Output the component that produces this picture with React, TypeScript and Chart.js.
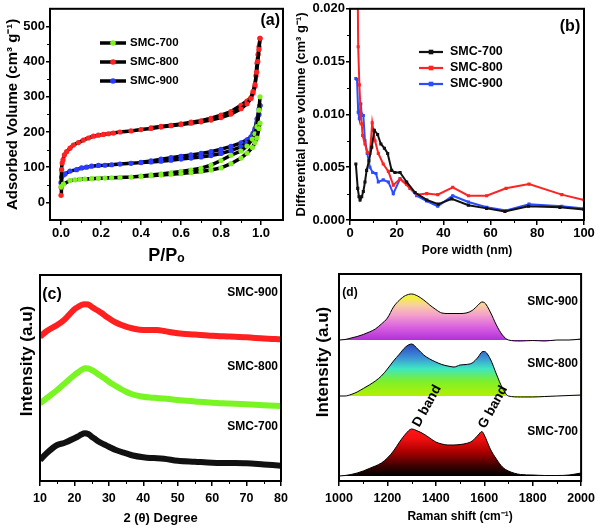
import React, { useEffect, useRef } from 'react';
import { Chart, registerables } from 'chart.js';

Chart.register(...registerables);

const FONT = "'Liberation Sans', Arial, Helvetica, sans-serif";

// ---------------- (a) N2 adsorption–desorption isotherms ----------------
const isoLabels = ['SMC-700', 'SMC-800', 'SMC-900'];
const isoColors = ['#7ff023', '#ff2222', '#2a3cff'];

const p700Ads = [0, 0.012, 0.045, 0.07, 0.095, 0.12, 0.153, 0.187, 0.22, 0.253, 0.295, 0.35, 0.4, 0.45, 0.5, 0.55, 0.6, 0.65, 0.7, 0.75, 0.8, 0.85, 0.9, 0.93, 0.957, 0.97, 0.98, 0.99, 0.995];
const v700Ads = [45, 52, 62, 64, 65.5, 66.5, 67.5, 68.5, 69, 70, 71, 72, 74, 76, 78, 80, 82, 85, 88, 92, 98, 110, 126, 140, 156, 170, 183, 210, 225];
const p700Des = [0.995, 0.99, 0.98, 0.97, 0.957, 0.93, 0.9, 0.85, 0.8, 0.75, 0.7, 0.65, 0.6, 0.55, 0.5, 0.45, 0.4];
const v700Des = [300, 262, 215, 195, 180, 160, 146, 134, 119, 106, 97, 92, 88, 84, 81, 78, 75];

const p800Ads = [0, 0.001, 0.003, 0.006, 0.01, 0.017, 0.028, 0.045, 0.062, 0.087, 0.112, 0.137, 0.162, 0.187, 0.212, 0.237, 0.262, 0.295, 0.35, 0.4, 0.45, 0.5, 0.55, 0.6, 0.65, 0.7, 0.75, 0.8, 0.85, 0.9, 0.93, 0.95, 0.96, 0.97, 0.978, 0.984, 0.99, 0.995];
const v800Ads = [20, 42, 93, 112, 121, 135, 144, 154, 163, 170, 177, 183, 188, 191, 193, 195, 197, 200, 203, 207, 210, 214, 218, 221, 225, 229, 234, 241, 251, 266, 280, 295, 315, 335, 370, 400, 435, 466];
const p800Des = [0.995, 0.99, 0.985, 0.98, 0.975, 0.97, 0.96, 0.95, 0.93, 0.9, 0.85, 0.8, 0.75, 0.7, 0.65, 0.6, 0.55, 0.5, 0.45];
const v800Des = [466, 442, 420, 396, 360, 330, 310, 298, 288, 276, 258, 248, 239, 232, 228, 223, 219, 216, 212];

const p900Ads = [0, 0.003, 0.012, 0.02, 0.045, 0.078, 0.103, 0.128, 0.153, 0.187, 0.22, 0.253, 0.295, 0.35, 0.4, 0.45, 0.5, 0.55, 0.6, 0.65, 0.7, 0.75, 0.8, 0.85, 0.9, 0.93, 0.95, 0.96, 0.97, 0.98, 0.99, 0.995];
const v900Ads = [56, 72, 78, 81, 89, 93, 98, 100, 103, 105, 105.5, 107, 109, 111, 113, 115, 117, 120, 123, 126, 129, 133, 139, 147, 158, 168, 180, 190, 205, 225, 250, 275];
const p900Des = [0.995, 0.99, 0.98, 0.97, 0.96, 0.95, 0.93, 0.9, 0.85, 0.8, 0.75, 0.7, 0.65, 0.6, 0.55, 0.5, 0.45, 0.4];
const v900Des = [275, 265, 237, 210, 196, 186, 178, 169, 159, 151, 144, 139, 135, 131, 127, 123, 118, 114];

const aXTicks = [0, 0.2, 0.4, 0.6, 0.8, 1.0];
const aXMinor = [0.1, 0.3, 0.5, 0.7, 0.9];
const aYTicks = [0, 100, 200, 300, 400, 500];
const aYMinor = [50, 150, 250, 350, 450];

// ---------------- (b) pore size distribution ----------------
const psdLabels = ['SMC-700', 'SMC-800', 'SMC-900'];
const psdColors = ['#111111', '#ff2424', '#2a4dff'];
const psdX700 = [2.5, 3.3, 3.85, 4.3, 5.0, 5.7, 6.4, 7.1, 8.1, 9.3, 10.4, 11.8, 13.2, 14.7, 16.1, 17.8, 19.2, 21.4, 24.2, 27.8, 32.8, 37.7, 43.5, 50.6, 58.4, 66.2, 76.2, 89.7, 100];
const psdY700 = [0.0053, 0.0030, 0.0022, 0.0019, 0.0022, 0.0027, 0.0036, 0.0047, 0.0056, 0.0069, 0.0085, 0.0081, 0.0072, 0.0068, 0.0063, 0.0047, 0.0045, 0.0045, 0.0036, 0.0026, 0.0019, 0.0015, 0.0020, 0.0014, 0.0011, 0.0008, 0.0013, 0.0012, 0.0010];
const psdX800 = [3.3, 3.5, 4.0, 4.6, 5.0, 5.4, 6.4, 7.4, 8.5, 9.5, 10.7, 12.1, 14.2, 16.4, 18.5, 21.4, 25.6, 28.5, 32.8, 37.5, 43.9, 50.6, 58.4, 66.7, 76.5, 90.5, 100];
const psdY800 = [0.0215, 0.0164, 0.0128, 0.0100, 0.0091, 0.0080, 0.0072, 0.0064, 0.0063, 0.0092, 0.0075, 0.0063, 0.0053, 0.0046, 0.0033, 0.0039, 0.0030, 0.0024, 0.0025, 0.0024, 0.0031, 0.0023, 0.0023, 0.0030, 0.0034, 0.0024, 0.0019];
const psdX900 = [2.5, 3.0, 3.5, 4.0, 4.6, 5.0, 5.7, 6.4, 7.4, 8.5, 9.7, 11.1, 12.1, 14.2, 16.4, 18.5, 21.4, 24.2, 28.5, 32.8, 37.5, 43.9, 50.6, 58.4, 66.7, 76.5, 90.5, 100];
const psdY900 = [0.0134, 0.0133, 0.0102, 0.0096, 0.0110, 0.0100, 0.0099, 0.0075, 0.0063, 0.0050, 0.0045, 0.0044, 0.0036, 0.0038, 0.0036, 0.0025, 0.0039, 0.0034, 0.0023, 0.0018, 0.0013, 0.0023, 0.0017, 0.0012, 0.0009, 0.0015, 0.0013, 0.0011];
const bXTicks = [0, 20, 40, 60, 80, 100];
const bXMinor = [10, 30, 50, 70, 90];
const bYTicks = [0, 0.005, 0.01, 0.015, 0.02];
const bYMinor = [0.0025, 0.0075, 0.0125, 0.0175];

// ---------------- (c) XRD ----------------
const xrdLabels = ['SMC-700', 'SMC-800', 'SMC-900'];
const xrdColors = ['#111111', '#79f524', '#ff2020'];
const xrdX = [10, 12, 15, 17, 20, 21, 22, 23, 24, 25, 26, 27, 28, 29, 30, 32, 35, 37, 40, 42, 44, 46, 50, 55, 60, 65, 70, 75, 80];
const xrd700 = [21, 28, 36, 38, 42.7, 44.5, 46.5, 47.7, 47, 44.3, 42, 39.5, 37.7, 36, 34.3, 31, 27.7, 25.5, 23.7, 23, 22.8, 22.3, 20.3, 19.3, 18.3, 18, 17.7, 16.5, 15.3];
const xrd800 = [77.7, 83, 91, 97, 106, 108.5, 111, 112.7, 112.5, 111, 109, 106.5, 104.3, 102, 99.3, 95, 89.3, 86.5, 84.3, 83.5, 83, 82.5, 81, 79.6, 78.3, 77.5, 76.7, 75.8, 75];
const xrd900 = [144.3, 150, 156, 161, 171.7, 174, 176, 176.7, 176.5, 174.3, 172, 170, 167.7, 165, 162.7, 158.5, 154.3, 152.5, 151, 151, 151, 150, 147.7, 146.5, 145.3, 144.5, 143.7, 142.5, 141.7];
const cXTicks = [10, 20, 30, 40, 50, 60, 70, 80];
const cXMinor = [15, 25, 35, 45, 55, 65, 75];

// ---------------- (d) Raman ----------------
const ramanLabels = ['SMC-700', 'SMC-800', 'SMC-900'];
const ramanOffsets = [5, 85, 141];
const ramanX = [1000, 1025, 1050, 1075, 1100, 1125, 1150, 1175, 1200, 1225, 1250, 1275, 1300, 1325, 1350, 1375, 1400, 1425, 1450, 1475, 1500, 1525, 1550, 1575, 1590, 1600, 1625, 1650, 1675, 1700, 1750, 1800, 1850, 1900, 1950, 2000];
const raman700 = [0, 0.5, 1.5, 3, 5, 7.5, 10, 13, 18, 25, 34, 42, 47, 45, 42, 38, 34, 32, 31, 31, 31.5, 32.5, 35, 41, 44.5, 41, 27, 17, 9, 5, 1.5, 1, 0.5, 0.5, 1, 3];
const raman800 = [0, 0, 1.5, 4, 7.5, 11, 15, 20, 27, 35, 42, 49, 52, 47, 41, 37, 34, 31.5, 30, 29, 31, 31.5, 33, 39, 44, 44.5, 37, 22, 8, 0, -1, -1, -0.5, 0, 0.5, 1];
const raman900 = [0, 0.5, 2, 3.5, 5.5, 8, 11, 16, 22, 33, 40, 44.5, 46, 44, 40, 35, 30.5, 27, 26.5, 26.5, 26.5, 27, 29.5, 35, 38, 37.5, 28, 15, 5, 0, -1, -0.5, -1, 0, 0, 1];
const dXTicks = [1000, 1200, 1400, 1600, 1800, 2000];
const dXMinor = [1100, 1300, 1500, 1700, 1900];

const ramanGradients = [
  [[0, '#000000'], [0.2, '#3c0000'], [0.5, '#b00000'], [0.75, '#f01010'], [1, '#ff1a1a']],
  [[0, '#b4f000'], [0.3, '#7cf02c'], [0.55, '#3ee6c4'], [0.78, '#3c8ed6'], [1, '#3050c8']],
  [[0, '#b030d8'], [0.25, '#d860e0'], [0.5, '#f4a0cc'], [0.7, '#f8d0a0'], [0.85, '#f2f040'], [1, '#f0f040']],
];

// ---------------- helpers ----------------
const pts = (xs: number[], ys: number[]) => xs.map((x, i) => ({ x, y: ys[i] }));
const bold = (size: number) => ({ family: FONT, size, weight: 'bold' as const });

const deco = {
  id: 'deco',
  afterDraw(chart: any, _args: any, o: any) {
    const { ctx, chartArea: a, scales } = chart;
    ctx.save();
    ctx.strokeStyle = '#000';
    ctx.lineWidth = 1;
    ctx.beginPath();
    (o.minorX || []).forEach((v: number) => {
      const px = Math.round(scales.x.getPixelForValue(v)) + 0.5;
      ctx.moveTo(px, a.bottom);
      ctx.lineTo(px, a.bottom + 3);
    });
    (o.minorY || []).forEach((v: number) => {
      const py = Math.round(scales.y.getPixelForValue(v)) + 0.5;
      ctx.moveTo(a.left, py);
      ctx.lineTo(a.left - 3, py);
    });
    ctx.stroke();
    ctx.lineWidth = 2;
    ctx.strokeRect(a.left, a.top, a.right - a.left, a.bottom - a.top);

    const L = o.legend;
    if (L) {
      L.items.forEach((it: any) => {
        ctx.strokeStyle = L.lineColor || it.color;
        ctx.lineWidth = L.lineW;
        ctx.beginPath();
        ctx.moveTo(L.x0, it.y);
        ctx.lineTo(L.x1, it.y);
        ctx.stroke();
        ctx.fillStyle = it.color;
        const cx = (L.x0 + L.x1) / 2;
        if (L.marker === 'circle') {
          ctx.beginPath();
          ctx.arc(cx, it.y, L.r, 0, Math.PI * 2);
          ctx.fill();
        } else {
          ctx.fillRect(cx - L.r, it.y - L.r, 2 * L.r, 2 * L.r);
        }
        ctx.fillStyle = '#000';
        ctx.font = `bold ${L.size}px ${FONT}`;
        ctx.textAlign = 'left';
        ctx.textBaseline = 'middle';
        ctx.fillText(it.label, L.tx, it.y);
      });
    }
    (o.texts || []).forEach((t: any) => {
      ctx.save();
      ctx.translate(t.x, t.y);
      ctx.rotate(((t.rot || 0) * Math.PI) / 180);
      ctx.font = `bold ${t.size}px ${FONT}`;
      ctx.textAlign = t.align || 'center';
      ctx.textBaseline = 'middle';
      ctx.fillStyle = '#000';
      ctx.fillText(t.t, 0, 0);
      ctx.restore();
    });
    ctx.restore();
  },
};

function xScale(o: any) {
  return {
    type: 'linear',
    min: o.min,
    max: o.max,
    afterBuildTicks: (s: any) => {
      s.ticks = o.ticks.map((v: number) => ({ value: v }));
    },
    afterFit: (s: any) => {
      s.height = o.h;
    },
    grid: { display: true, drawOnChartArea: false, drawTicks: true, tickLength: o.tl ?? 5, color: '#000', lineWidth: 1.5 },
    border: { display: true, color: '#000', width: 2 },
    ticks: { color: '#000', font: bold(o.tickSize), padding: o.tickPad ?? 1, maxRotation: 0, callback: o.fmt },
    title: { display: true, text: o.title, color: '#000', font: bold(o.titleSize), padding: { top: 0, bottom: o.titlePad } },
  };
}

function yScale(o: any) {
  return {
    type: 'linear',
    min: o.min,
    max: o.max,
    afterBuildTicks: (s: any) => {
      s.ticks = (o.ticks || []).map((v: number) => ({ value: v }));
    },
    afterFit: (s: any) => {
      s.width = o.w;
    },
    grid: { display: !!o.ticks, drawOnChartArea: false, drawTicks: true, tickLength: o.tl ?? 5, color: '#000', lineWidth: 1.5 },
    border: { display: true, color: '#000', width: 2 },
    ticks: { display: !!o.ticks, color: '#000', font: bold(o.tickSize || 12), padding: o.tickPad ?? 1, callback: o.fmt },
    title: { display: !!o.title, text: o.title || '', color: '#000', font: bold(o.titleSize || 12), padding: { top: o.titlePad || 0, bottom: 0 } },
  };
}

const commonOpts = (padTop: number, padRight: number) => ({
  responsive: false,
  animation: false,
  maintainAspectRatio: false,
  events: [],
  layout: { padding: { top: padTop, right: padRight, left: 0, bottom: 0 } },
});

// ---------------- chart configs ----------------
function configA() {
  const sets: any[] = [];
  const groups = [
    [p700Ads, v700Ads, p700Des, v700Des],
    [p800Ads, v800Ads, p800Des, v800Des],
    [p900Ads, v900Ads, p900Des, v900Des],
  ];
  groups.forEach((g, i) => {
    [[g[0], g[1]], [g[2], g[3]]].forEach(([xs, ys]) => {
      sets.push({
        label: isoLabels[i],
        data: pts(xs as number[], ys as number[]),
        borderColor: '#000',
        borderWidth: 3.5,
        pointRadius: 2.6,
        pointBackgroundColor: isoColors[i],
        pointBorderWidth: 0,
        tension: 0,
      });
    });
  });
  return {
    type: 'line',
    data: { datasets: sets },
    options: {
      ...commonOpts(4, 17),
      scales: {
        x: xScale({ min: -0.055, max: 1.11, ticks: aXTicks, h: 48, tickSize: 13, tickPad: 1, fmt: (v: any) => Number(v).toFixed(1), title: 'P/Pₒ', titleSize: 18, titlePad: 1 }),
        y: yScale({ min: -50, max: 550, ticks: aYTicks, w: 50, tickSize: 13, tickPad: 1, tl: 4, fmt: (v: any) => String(v), title: 'Adsorbed Volume (cm³ g⁻¹)', titleSize: 15, titlePad: 4 }),
      },
      plugins: {
        legend: { display: false },
        tooltip: { enabled: false },
        deco: {
          minorX: aXMinor,
          minorY: aYMinor,
          texts: [{ t: '(a)', x: 280, y: 21, size: 16, align: 'right' }],
          legend: {
            x0: 100, x1: 126, tx: 130, r: 2.8, lineW: 3.5, lineColor: '#000', size: 11.5, marker: 'circle',
            items: isoLabels.map((l, i) => ({ label: l, color: isoColors[i], y: [43, 62, 81][i] })),
          },
        },
      },
    },
    plugins: [deco],
  };
}

function configB() {
  const xs = [psdX700, psdX800, psdX900];
  const ys = [psdY700, psdY800, psdY900];
  return {
    type: 'line',
    data: {
      datasets: psdLabels.map((l, i) => ({
        label: l,
        data: pts(xs[i], ys[i]),
        borderColor: psdColors[i],
        backgroundColor: psdColors[i],
        borderWidth: 2,
        pointStyle: 'rect',
        pointRadius: 2.2,
        pointBorderWidth: 0,
        pointBackgroundColor: psdColors[i],
        tension: 0,
      })),
    },
    options: {
      ...commonOpts(7, 16),
      scales: {
        x: xScale({ min: 0, max: 100, ticks: bXTicks, h: 48, tickSize: 13, tickPad: 1, fmt: (v: any) => String(v), title: 'Pore width (nm)', titleSize: 12, titlePad: 10 }),
        y: yScale({ min: 0, max: 0.02, ticks: bYTicks, w: 60, tickSize: 13, tickPad: 1, tl: 4, fmt: (v: any) => Number(v).toFixed(3), title: 'Differential pore volume (cm³ g⁻¹)', titleSize: 13, titlePad: 4 }),
      },
      plugins: {
        legend: { display: false },
        tooltip: { enabled: false },
        deco: {
          minorX: bXMinor,
          minorY: bYMinor,
          texts: [{ t: '(b)', x: 280, y: 27, size: 16, align: 'center' }],
          legend: {
            x0: 129, x1: 153, tx: 160, r: 2.3, lineW: 2.2, size: 12.5, marker: 'rect',
            items: psdLabels.map((l, i) => ({ label: l, color: psdColors[i], y: [52, 68, 84][i] })),
          },
        },
      },
    },
    plugins: [deco],
  };
}

function configC() {
  const ys = [xrd700, xrd800, xrd900];
  return {
    type: 'line',
    data: {
      datasets: xrdLabels.map((l, i) => ({
        label: l,
        data: pts(xrdX, ys[i]),
        borderColor: xrdColors[i],
        borderWidth: 6,
        pointRadius: 0,
        cubicInterpolationMode: 'monotone',
      })),
    },
    options: {
      ...commonOpts(7, 19),
      scales: {
        x: xScale({ min: 10, max: 80, ticks: cXTicks, h: 48, tickSize: 12.5, tickPad: 5, fmt: (v: any) => String(v), title: '2 (θ) Degree', titleSize: 13, titlePad: 3 }),
        y: yScale({ min: 0, max: 206, w: 40 }),
      },
      plugins: {
        legend: { display: false },
        tooltip: { enabled: false },
        deco: {
          minorX: cXMinor,
          texts: [
            { t: 'Intensity (a.u)', x: 27, y: 93, size: 17, align: 'center', rot: -90 },
            { t: '(c)', x: 52, y: 27, size: 16, align: 'center' },
            { t: 'SMC-900', x: 278, y: 25, size: 12, align: 'right' },
            { t: 'SMC-800', x: 278, y: 99, size: 12, align: 'right' },
            { t: 'SMC-700', x: 278, y: 159, size: 12, align: 'right' },
          ],
        },
      },
    },
    plugins: [deco],
  };
}

function configD() {
  const ys = [raman700, raman800, raman900];
  const peakTop = 50;
  return {
    type: 'line',
    data: {
      datasets: ramanLabels.map((l, i) => ({
        label: l,
        data: pts(ramanX, ys[i].map((v) => v + ramanOffsets[i])),
        borderColor: '#000',
        borderWidth: 1,
        pointRadius: 0,
        cubicInterpolationMode: 'monotone',
        fill: { value: ramanOffsets[i] },
        backgroundColor: (c: any) => {
          const chart = c.chart;
          if (!chart.chartArea) return 'transparent';
          const y = chart.scales.y;
          const g = chart.ctx.createLinearGradient(0, y.getPixelForValue(ramanOffsets[i]), 0, y.getPixelForValue(ramanOffsets[i] + peakTop));
          (ramanGradients[i] as any[]).forEach(([p, col]) => g.addColorStop(p, col));
          return g;
        },
      })),
    },
    options: {
      ...commonOpts(6, 15),
      scales: {
        x: xScale({ min: 1000, max: 2000, ticks: dXTicks, h: 48, tickSize: 12.5, tickPad: 5, fmt: (v: any) => String(v), title: 'Raman shift (cm⁻¹)', titleSize: 12, titlePad: 5 }),
        y: yScale({ min: 0, max: 207, w: 49 }),
      },
      plugins: {
        legend: { display: false },
        tooltip: { enabled: false },
        filler: { propagate: false },
        deco: {
          minorX: dXMinor,
          texts: [
            { t: 'Intensity (a.u)', x: 33, y: 94, size: 17, align: 'center', rot: -90 },
            { t: '(d)', x: 60, y: 25, size: 12, align: 'center' },
            { t: 'SMC-900', x: 288, y: 34, size: 12, align: 'right' },
            { t: 'SMC-800', x: 288, y: 96, size: 12, align: 'right' },
            { t: 'SMC-700', x: 288, y: 164, size: 12, align: 'right' },
            { t: 'D band', x: 137, y: 138, size: 13.5, align: 'center', rot: -61 },
            { t: 'G band', x: 203, y: 139, size: 13.5, align: 'center', rot: -61 },
          ],
        },
      },
    },
    plugins: [deco],
  };
}

function Panel({ left, top, width, height, make }: { left: number; top: number; width: number; height: number; make: () => any }) {
  const ref = useRef<HTMLCanvasElement | null>(null);
  useEffect(() => {
    if (!ref.current) return;
    const chart = new Chart(ref.current, make());
    return () => chart.destroy();
  }, []);
  return <canvas ref={ref} width={width} height={height} style={{ position: 'absolute', left, top, width, height }} />;
}

export default function App() {
  return (
    <div style={{ position: 'absolute', left: 0, top: 0, width: 600, height: 529, background: '#fff', overflow: 'hidden' }}>
      <Panel left={0} top={0} width={300} height={268} make={configA} />
      <Panel left={290} top={0} width={310} height={268} make={configB} />
      <Panel left={0} top={268} width={300} height={261} make={configC} />
      <Panel left={290} top={268} width={310} height={261} make={configD} />
    </div>
  );
}
